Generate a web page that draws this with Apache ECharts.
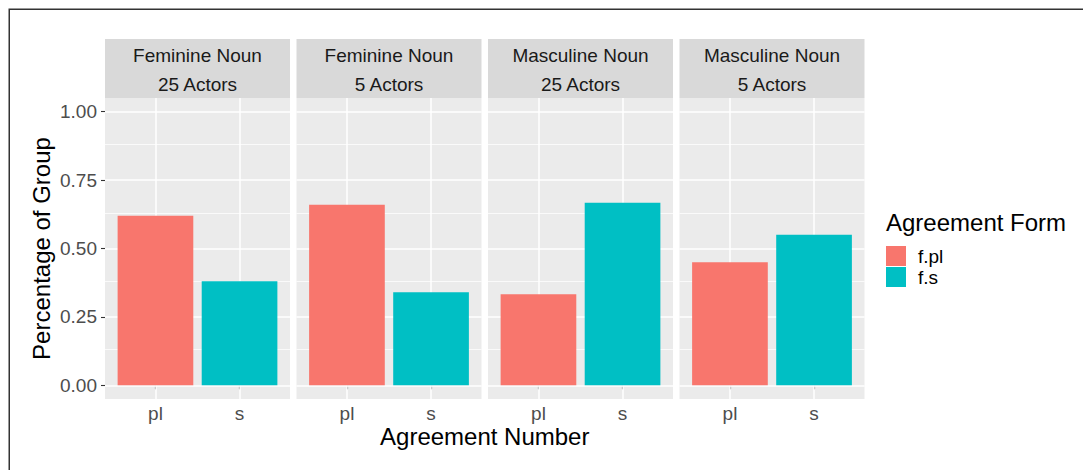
<!DOCTYPE html>
<html>
<head>
<meta charset="utf-8">
<script src="https://cdn.jsdelivr.net/npm/echarts@6/dist/echarts.min.js"></script>
<style>
  html, body { margin: 0; padding: 0; background: #fff; }
  #chart { width: 1083px; height: 470px; }
</style>
</head>
<body>
<div id="chart"></div>
<script>
// facets, categories and values
var facetLabels = ['Feminine Noun\n25 Actors', 'Feminine Noun\n5 Actors', 'Masculine Noun\n25 Actors', 'Masculine Noun\n5 Actors'];
var numberLevels = ['pl', 's'];
var formLevels = ['f.pl', 'f.s'];
var plValues = [0.62, 0.66, 0.333, 0.45];
var sValues = [0.38, 0.34, 0.667, 0.55];
var yTicks = [0, 0.25, 0.5, 0.75, 1];
var yMinor = [0.125, 0.375, 0.625, 0.875];

(function() {
  var font = 'Liberation Sans, Arial, sans-serif';
  var red = '#F8766D';
  var teal = '#00BFC4';
  var panelLeft = [105, 296.5, 488, 679.5];
  var panelW = 185;
  var panelTop = 98;
  var panelH = 301;
  var stripTop = 39;

  var chart = echarts.init(document.getElementById('chart'), null, { renderer: 'svg' });

  var grids = [], xAxes = [], yAxes = [], series = [], graphics = [];

  var gridLines = yTicks.map(function(v) { return { yAxis: v }; })
    .concat(yMinor.map(function(v) { return { yAxis: v, lineStyle: { width: 0.75 } }; }))
    .concat(numberLevels.map(function(n, j) { return { xAxis: j + 1 }; }));

  facetLabels.forEach(function(lab, i) {
    grids.push({
      left: panelLeft[i], top: panelTop, width: panelW, height: panelH,
      show: true, backgroundColor: '#EBEBEB', borderWidth: 0
    });
    xAxes.push({
      type: 'value', gridIndex: i, min: 0.4, max: 2.6,
      axisLine: { show: false },
      splitLine: { show: false },
      axisTick: { show: true, customValues: [1, 2], length: 4, lineStyle: { color: '#333333', width: 1.1 } },
      axisLabel: {
        customValues: [1, 2], margin: 5, color: '#4D4D4D', fontSize: 19, fontFamily: font,
        formatter: function(v) { return numberLevels[Math.round(v) - 1]; }
      }
    });
    yAxes.push({
      type: 'value', gridIndex: i, min: -0.05, max: 1.05,
      axisLine: { show: false },
      splitLine: { show: false },
      axisTick: { show: i === 0, customValues: yTicks, length: 4, lineStyle: { color: '#333333', width: 1.1 } },
      axisLabel: {
        show: i === 0, customValues: yTicks, margin: 8, color: '#4D4D4D', fontSize: 19, fontFamily: font,
        formatter: function(v) { return v.toFixed(2); }
      },
      name: i === 0 ? 'Percentage of Group' : '',
      nameLocation: 'middle',
      nameGap: 52,
      nameTextStyle: { color: '#000', fontSize: 24, fontFamily: font }
    });
    series.push({
      name: formLevels[0], type: 'bar', xAxisIndex: i, yAxisIndex: i,
      data: [[1, plValues[i]]], barWidth: '90%', barGap: '-100%',
      itemStyle: { color: red }, z: 3,
      markLine: {
        silent: true, symbol: ['none', 'none'], z: 1, animation: false,
        label: { show: false },
        lineStyle: { color: '#ffffff', width: 1.5, type: 'solid' },
        data: gridLines
      }
    });
    series.push({
      name: formLevels[1], type: 'bar', xAxisIndex: i, yAxisIndex: i,
      data: [[2, sValues[i]]], barWidth: '90%', barGap: '-100%',
      itemStyle: { color: teal }, z: 3
    });
    // facet strip
    graphics.push({
      type: 'rect', shape: { x: panelLeft[i], y: stripTop, width: panelW, height: panelTop - stripTop },
      style: { fill: '#D9D9D9' }
    });
    graphics.push({
      type: 'text', x: panelLeft[i] + panelW / 2, y: (stripTop + panelTop) / 2 + 1,
      style: { text: lab, fill: '#1A1A1A', fontSize: 19, fontFamily: font, align: 'center', verticalAlign: 'middle', lineHeight: 29 }
    });
  });

  graphics.push({
    type: 'text', x: panelLeft[0] + (panelLeft[3] + panelW - panelLeft[0]) / 2, y: 436,
    style: { text: 'Agreement Number', fill: '#000', fontSize: 24, fontFamily: font, align: 'center', verticalAlign: 'middle' }
  });
  graphics.push({
    type: 'text', x: 886, y: 222,
    style: { text: 'Agreement Form', fill: '#000', fontSize: 24, fontFamily: font, align: 'left', verticalAlign: 'middle' }
  });
  graphics.push({
    type: 'rect', shape: { x: 9.25, y: 9.25, width: 1200, height: 600 },
    style: { fill: 'none', stroke: '#333333', lineWidth: 1.5 }, z: 10
  });

  chart.setOption({
    animation: false,
    grid: grids,
    xAxis: xAxes,
    yAxis: yAxes,
    legend: {
      data: formLevels, orient: 'vertical', left: 886, top: 246, padding: 0,
      icon: 'rect', itemWidth: 20, itemHeight: 20, itemGap: 1, selectedMode: false,
      textStyle: { color: '#000', fontSize: 19, fontFamily: font, padding: [0, 0, 0, 7] }
    },
    graphic: graphics,
    series: series
  });
  window.addEventListener('resize', function() { chart.resize(); });
})();
</script>
</body>
</html>
